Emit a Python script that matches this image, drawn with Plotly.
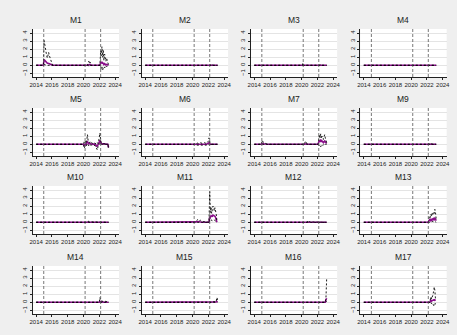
import plotly.graph_objects as go

# ---------------- data (decimal years) ----------------
panel_names = ["M1", "M2", "M3", "M4", "M5", "M6", "M7", "M9",
               "M10", "M11", "M12", "M13", "M14", "M15", "M16", "M17"]
event_dates = [2014.96, 2020.2, 2022.17]
x_ticks = [2014, 2016, 2018, 2020, 2022, 2024]
y_ticks = [-1, 0, 1, 2, 3, 4]

M1_x = [2014.0, 2014.92, 2015.0, 2015.08, 2015.17, 2015.25, 2015.33, 2015.42, 2015.5, 2015.58,
        2015.67, 2015.75, 2015.83, 2015.92, 2016.0, 2016.08, 2020.5, 2020.58, 2020.67, 2020.75,
        2020.83, 2020.92, 2022.08, 2022.17, 2022.25, 2022.33, 2022.42, 2022.5, 2022.58, 2022.67,
        2022.75, 2022.83, 2022.92, 2023.0, 2023.08, 2023.17]
M1_hi = [0, 0, 3.1, 2.5, 2.0, 1.6, 1.2, 0.9, 1.4, 1.6, 1.2, 0.9, 0.6, 0.4, 0.2, 0, 0, 0.3, 0.5, 0.2,
         0.4, 0, 0, 1.8, 1.2, 2.3, 1.0, 1.9, 0.6, 1.4, 0.8, 0.5, 0.9, 0.4, 0.3, 0.1]
M1_coef = [0, 0, 0.7, 0.6, 0.45, 0.35, 0.3, 0.25, 0.25, 0.25, 0.2, 0.15, 0.12, 0.1, 0.05, 0, 0, 0.05, 0.1, 0.05,
           0.1, 0, 0, 0.35, 0.25, 0.45, 0.2, 0.3, 0.1, 0.2, 0.1, 0.05, 0.1, 0.05, 0, 0]
M1_lo = [0, 0, 0.1, 0.05, 0, 0, 0, 0, 0, 0, 0, 0, 0, 0, 0, 0, 0, 0, -0.1, 0,
         -0.1, 0, 0, -0.3, -0.5, -0.2, -0.6, -0.3, -0.4, -0.2, -0.3, -0.1, -0.2, -0.1, 0, 0]

M2_x = [2014.0, 2022.25, 2022.33, 2022.42, 2022.5, 2022.58, 2023.17]
M2_hi = [0, 0, 0.15, 0.1, 0.15, 0, 0]
M2_coef = [0, 0, 0.03, 0.02, 0.03, 0, 0]
M2_lo = [0, 0, 0, 0, 0, 0, 0]

M3_x = [2014.0, 2020.08, 2020.17, 2020.25, 2022.25, 2022.33, 2022.42, 2023.17]
M3_hi = [0, 0, 0.3, 0, 0, 0.1, 0, 0]
M3_coef = [0, 0, 0.05, 0, 0, 0.02, 0, 0]
M3_lo = [0, 0, 0, 0, 0, 0, 0, 0]

M4_x = [2014.0, 2023.17]
M4_hi = [0, 0]
M4_coef = [0, 0]
M4_lo = [0, 0]

M5_x = [2014.0, 2020.0, 2020.08, 2020.17, 2020.25, 2020.33, 2020.42, 2020.5, 2020.58, 2020.67,
        2020.75, 2020.83, 2020.92, 2021.0, 2021.17, 2021.33, 2021.5, 2021.58, 2021.67, 2021.75,
        2021.83, 2021.92, 2022.0, 2022.08, 2022.17, 2022.25, 2022.42, 2022.92, 2023.08, 2023.17]
M5_hi = [0, 0, 0.3, 0.1, 0.4, 0.2, 0.6, 1.2, 0.5, 0.3, 0.2, 0.3, 0.1, 0.2, 0.1, 0.2, 0.1, 0.0, 0.0, 0.2,
         0.1, 0.4, 0.8, 1.4, 0.5, 0.2, 0.1, 0, 0, -0.3]
M5_coef = [0, 0, -0.1, -0.1, 0.1, 0, 0.2, 0.3, 0.2, 0.05, 0.1, 0.1, 0, 0.05, 0, 0.05, -0.05, -0.2, -0.25, -0.2,
           -0.1, 0.1, 0.3, 0.5, 0.2, 0.1, 0.05, 0, 0, -0.4]
M5_lo = [0, 0, -0.5, -0.3, -0.1, -0.2, 0, 0.1, -0.1, -0.2, 0, -0.1, -0.1, -0.1, -0.1, -0.1, -0.2, -0.4, -0.5, -0.7,
         -0.3, -0.2, 0, 0.1, -0.1, 0, 0, 0, 0, -0.5]

M6_x = [2014.0, 2020.17, 2020.25, 2020.42, 2020.58, 2020.75, 2021.0, 2021.25, 2021.5, 2021.75,
        2021.92, 2022.0, 2022.08, 2022.17, 2022.25, 2023.17]
M6_hi = [0, 0, 0.1, 0.05, 0.15, 0.1, 0.2, 0.1, 0.2, 0.1, 0.3, 0.4, 0.8, 0.3, 0, 0]
M6_coef = [0, 0, 0, 0, 0.05, 0, 0.05, 0, 0.05, 0, 0.1, 0.1, 0.2, 0.05, 0, 0]
M6_lo = [0, 0, -0.1, -0.1, -0.05, -0.1, -0.05, -0.1, -0.05, -0.1, 0, -0.05, 0, -0.1, 0, 0]

M7_x = [2014.0, 2014.92, 2015.0, 2015.08, 2015.17, 2015.33, 2015.5, 2015.67, 2020.33, 2020.42,
        2020.5, 2020.58, 2020.67, 2020.83, 2022.08, 2022.17, 2022.25, 2022.33, 2022.42, 2022.5,
        2022.58, 2022.67, 2022.75, 2022.83, 2022.92, 2023.0, 2023.08, 2023.17]
M7_hi = [0, 0, 0.5, 0.3, 0.2, 0.15, 0.1, 0, 0, 0.2, 0.4, 0.2, 0.15, 0, 0, 0.6, 1.2, 0.8, 1.3, 0.7,
         1.0, 0.9, 0.6, 0.9, 1.2, 0.8, 0.3, 0.2]
M7_coef = [0, 0, 0.1, 0.05, 0.05, 0.03, 0.02, 0, 0, 0.05, 0.1, 0.05, 0.03, 0, 0, 0.2, 0.5, 0.3, 0.6, 0.3,
           0.4, 0.3, 0.2, 0.3, 0.4, 0.3, 0.1, 0.1]
M7_lo = [0, 0, 0, 0, 0, 0, 0, 0, 0, 0, 0, 0, 0, 0, 0, -0.1, -0.2, -0.1, -0.3, -0.1,
         -0.2, -0.1, -0.1, 0, -0.1, 0, 0, 0]

M9_x = [2014.0, 2022.17, 2022.25, 2022.33, 2022.5, 2023.17]
M9_hi = [0, 0, 0.15, 0.05, 0.05, 0]
M9_coef = [0, 0, 0.03, 0.01, 0.01, 0]
M9_lo = [0, 0, 0, 0, 0, 0]

M10_x = [2014.0, 2020.42, 2020.58, 2020.75, 2023.17]
M10_hi = [0, 0, 0.15, 0.05, 0]
M10_coef = [0, 0, 0.03, 0.01, 0]
M10_lo = [0, 0, 0, 0, 0]

M11_x = [2014.0, 2020.33, 2020.5, 2020.67, 2020.83, 2021.0, 2021.17, 2022.08, 2022.17, 2022.25,
         2022.33, 2022.42, 2022.5, 2022.58, 2022.67, 2022.75, 2022.83, 2022.92, 2023.0, 2023.08]
M11_hi = [0, 0, 0.2, 0.35, 0.2, 0.25, 0.1, 0, 3.8, 1.2, 1.9, 1.1, 1.6, 2.0, 1.8, 1.4, 1.8, 1.5, 1.0, 0.2]
M11_coef = [0, 0, 0.05, 0.1, 0.05, 0.05, 0, 0, 0.7, 0.6, 0.8, 0.7, 0.75, 0.9, 0.85, 0.8, 0.75, 0.6, 0.3, 0]
M11_lo = [0, 0, 0, 0, 0, 0, 0, 0, 0.2, 0.1, 0.3, 0.2, 0.2, 0.3, 0.3, 0.3, 0.2, 0.1, 0, 0]

M12_x = [2014.0, 2020.67, 2020.83, 2021.0, 2023.17]
M12_hi = [0, 0, 0.25, 0.05, 0]
M12_coef = [0, 0, 0.05, 0.01, 0]
M12_lo = [0, 0, 0, 0, 0]

M13_x = [2014.0, 2022.17, 2022.25, 2022.33, 2022.42, 2022.5, 2022.58, 2022.67, 2022.75, 2022.83,
         2022.92, 2023.0, 2023.08, 2023.17]
M13_hi = [0, 0, 0.5, 0.8, 0.6, 1.0, 0.7, 1.2, 1.0, 1.3, 1.1, 1.6, 1.2, 0.4]
M13_coef = [0, 0, 0.2, 0.3, 0.2, 0.35, 0.25, 0.4, 0.3, 0.45, 0.35, 0.5, 0.4, 0.2]
M13_lo = [0, 0, 0, 0.05, 0, 0.05, 0, 0.1, 0.05, 0.1, 0.05, 0.1, 0.05, 0]

M14_x = [2014.0, 2022.0, 2022.08, 2022.17, 2022.33, 2022.5, 2022.67, 2022.83, 2022.92, 2023.17]
M14_hi = [0, 0, 0.6, 0.2, 0.15, 0.1, 0.15, 0.1, 0, 0]
M14_coef = [0, 0, 0.1, 0.05, 0.03, 0.02, 0.03, 0.02, 0, 0]
M14_lo = [0, 0, 0, 0, 0, 0, 0, 0, 0, 0]

M15_x = [2014.0, 2022.58, 2022.67, 2022.75, 2022.92, 2023.0, 2023.08, 2023.17]
M15_hi = [0, 0, 0.1, 0.05, 0.05, 0.15, 0.6, 0.3]
M15_coef = [0, 0, 0.02, 0.01, 0.01, 0.05, 0.1, 0.05]
M15_lo = [0, 0, 0, 0, 0, 0, 0, 0]

M16_x = [2014.0, 2023.0, 2023.08, 2023.17]
M16_hi = [0, 0, 0.5, 2.9]
M16_coef = [0, 0, 0.3, 0.5]
M16_lo = [0, 0, 0.1, 0.1]

M17_x = [2014.0, 2022.33, 2022.42, 2022.5, 2022.58, 2022.67, 2022.75, 2022.83, 2022.92, 2023.0, 2023.08]
M17_hi = [0, 0, 0.3, 0.7, 0.4, 0.6, 0.9, 1.3, 1.9, 1.5, 0.4]
M17_coef = [0, 0, 0.1, 0.3, 0.15, 0.2, 0.3, 0.3, 0.25, 0.3, 0.2]
M17_lo = [0, 0, -0.1, 0, -0.2, -0.1, -0.2, -0.3, -0.5, -0.3, 0]

series = {
    "M1": (M1_x, M1_lo, M1_coef, M1_hi), "M2": (M2_x, M2_lo, M2_coef, M2_hi),
    "M3": (M3_x, M3_lo, M3_coef, M3_hi), "M4": (M4_x, M4_lo, M4_coef, M4_hi),
    "M5": (M5_x, M5_lo, M5_coef, M5_hi), "M6": (M6_x, M6_lo, M6_coef, M6_hi),
    "M7": (M7_x, M7_lo, M7_coef, M7_hi), "M9": (M9_x, M9_lo, M9_coef, M9_hi),
    "M10": (M10_x, M10_lo, M10_coef, M10_hi), "M11": (M11_x, M11_lo, M11_coef, M11_hi),
    "M12": (M12_x, M12_lo, M12_coef, M12_hi), "M13": (M13_x, M13_lo, M13_coef, M13_hi),
    "M14": (M14_x, M14_lo, M14_coef, M14_hi), "M15": (M15_x, M15_lo, M15_coef, M15_hi),
    "M16": (M16_x, M16_lo, M16_coef, M16_hi), "M17": (M17_x, M17_lo, M17_coef, M17_hi),
}

# ---------------- layout ----------------
W, H = 457, 335
col_left = [30, 140.5, 251, 362]
row_top = [29, 108, 186, 266]
pw, ph = 87.6, 48
PURPLE = "#8a0f8a"
AXC = "#222222"

fig = go.Figure()
layout = dict(
    width=W, height=H, margin=dict(l=0, r=0, t=0, b=0),
    paper_bgcolor="#efefef", plot_bgcolor="white", showlegend=False,
    font=dict(family="Liberation Sans, Arial, sans-serif", color=AXC),
)
annotations, shapes = [], []

for i, name in enumerate(panel_names):
    r, c = divmod(i, 4)
    k = i + 1
    suf = "" if k == 1 else str(k)
    xa, ya = "x" + suf, "y" + suf
    x, lo, coef, hi = series[name]
    fig.add_trace(go.Scatter(x=x, y=coef, mode="lines", xaxis=xa, yaxis=ya,
                             line=dict(color=PURPLE, width=1.6)))
    for yy in (hi, lo):
        fig.add_trace(go.Scatter(x=x, y=yy, mode="lines", xaxis=xa, yaxis=ya,
                                 line=dict(color="black", width=0.9, dash="2px,2px")))
    x0 = col_left[c] / W
    x1 = (col_left[c] + pw) / W
    y1 = 1 - row_top[r] / H
    y0 = 1 - (row_top[r] + ph) / H
    layout["xaxis" + suf] = dict(
        domain=[x0, x1], anchor=ya, range=[2013.55, 2024.5],
        tickvals=x_ticks, ticktext=[str(t) for t in x_ticks],
        showgrid=False, zeroline=False, showline=True, linecolor=AXC, linewidth=1,
        ticks="outside", ticklen=2, tickwidth=0.8, tickcolor=AXC,
        tickfont=dict(size=6, color=AXC), tickangle=0,
    )
    layout["yaxis" + suf] = dict(
        domain=[y0, y1], anchor=xa, range=[-1.45, 4.5],
        tickvals=y_ticks, showgrid=True, gridcolor="#e4e4e4", gridwidth=0.7,
        zeroline=False, showline=True, linecolor=AXC, linewidth=1,
        ticks="outside", ticklen=2, tickwidth=0.8, tickcolor=AXC,
        tickfont=dict(size=6, color=AXC), tickangle=-90,
    )
    annotations.append(dict(text=name, x=(x0 + x1) / 2, y=y1 + 2 / H, xref="paper", yref="paper",
                            xanchor="center", yanchor="bottom", showarrow=False,
                            font=dict(size=8.5, color="#222222")))
    for d in event_dates:
        shapes.append(dict(type="line", xref=xa, yref=ya + " domain", x0=d, x1=d, y0=0, y1=1,
                           line=dict(color="#555555", width=0.8, dash="3px,2px")))

layout["annotations"] = annotations
layout["shapes"] = shapes
fig.update_layout(**layout)
fig.write_html("out.html", config={"displayModeBar": False},
               post_script="document.body.style.margin='0';")
